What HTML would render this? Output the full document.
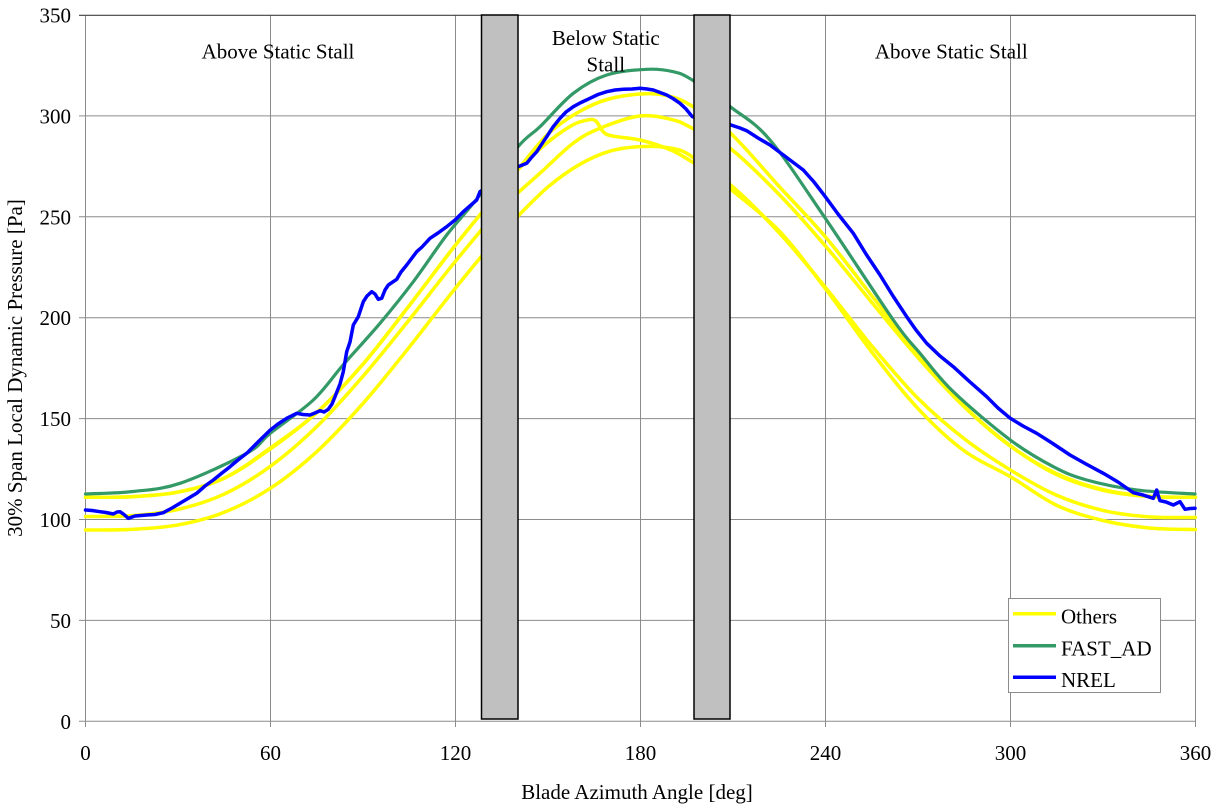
<!DOCTYPE html>
<html>
<head>
<meta charset="utf-8">
<style>
  html, body { margin: 0; padding: 0; background: #ffffff; }
  svg { display: block; }
  text { font-family: "Liberation Serif", "Times New Roman", serif; fill: #000; }
</style>
</head>
<body>
<svg id="chart" width="1212" height="810" viewBox="0 0 1212 810" xmlns="http://www.w3.org/2000/svg">
  <rect x="0" y="0" width="1212" height="810" fill="#ffffff"/>
  <g id="grid" stroke="#8c8c8c" stroke-width="1" fill="none">
    <!-- horizontal gridlines -->
    <line x1="79" y1="721.3" x2="1195.5" y2="721.3"/>
    <line x1="79" y1="620.4" x2="1195.5" y2="620.4"/>
    <line x1="79" y1="519.5" x2="1195.5" y2="519.5"/>
    <line x1="79" y1="418.6" x2="1195.5" y2="418.6"/>
    <line x1="79" y1="317.7" x2="1195.5" y2="317.7"/>
    <line x1="79" y1="216.8" x2="1195.5" y2="216.8"/>
    <line x1="79" y1="115.9" x2="1195.5" y2="115.9"/>
    <!-- vertical gridlines -->
    <line x1="85.5" y1="15" x2="85.5" y2="727"/>
    <line x1="270.5" y1="15" x2="270.5" y2="727"/>
    <line x1="455.5" y1="15" x2="455.5" y2="727"/>
    <line x1="640.5" y1="15" x2="640.5" y2="727"/>
    <line x1="825.5" y1="15" x2="825.5" y2="727"/>
    <line x1="1010.5" y1="15" x2="1010.5" y2="727"/>
    <line x1="1195.5" y1="15" x2="1195.5" y2="727"/>
  </g>
  <line x1="79" y1="15.3" x2="1195.5" y2="15.3" stroke="#404040" stroke-width="1.2"/>

  <g id="curves" fill="none" stroke-linejoin="round" stroke-linecap="round"></g>

  <!-- gray bars -->
  <rect x="481.5" y="15" width="36.5" height="704" fill="#c0c0c0" stroke="#000" stroke-width="1.5"/>
  <rect x="694" y="15" width="36" height="704" fill="#c0c0c0" stroke="#000" stroke-width="1.5"/>

  <!-- annotations -->
  <text x="278" y="58.3" font-size="21" text-anchor="middle">Above Static Stall</text>
  <text x="951.3" y="58.3" font-size="21" text-anchor="middle">Above Static Stall</text>
  <text x="605.8" y="45" font-size="21" text-anchor="middle">Below Static</text>
  <text x="605.8" y="71.7" font-size="21" text-anchor="middle">Stall</text>

  <!-- y tick labels -->
  <g font-size="21" text-anchor="end">
    <text x="71" y="728.8">0</text>
    <text x="71" y="627.9">50</text>
    <text x="71" y="527">100</text>
    <text x="71" y="426.1">150</text>
    <text x="71" y="325.2">200</text>
    <text x="71" y="224.3">250</text>
    <text x="71" y="123.4">300</text>
    <text x="71" y="22.7">350</text>
  </g>
  <!-- x tick labels -->
  <g font-size="21" text-anchor="middle">
    <text x="85.5" y="760">0</text>
    <text x="270.5" y="760">60</text>
    <text x="455.5" y="760">120</text>
    <text x="640.5" y="760">180</text>
    <text x="825.5" y="760">240</text>
    <text x="1010.5" y="760">300</text>
    <text x="1195.5" y="760">360</text>
  </g>
  <!-- axis titles -->
  <text x="637" y="799" font-size="21" text-anchor="middle">Blade Azimuth Angle [deg]</text>
  <text transform="translate(22,368) rotate(-90)" font-size="21" text-anchor="middle">30% Span Local Dynamic Pressure [Pa]</text>

  <!-- legend -->
  <rect x="1008.5" y="598.5" width="152" height="94" fill="#ffffff" stroke="#8c8c8c" stroke-width="1"/>
  <line x1="1013" y1="613.7" x2="1056" y2="613.7" stroke="#ffff00" stroke-width="3.5"/>
  <line x1="1013" y1="645.7" x2="1056" y2="645.7" stroke="#339966" stroke-width="3.5"/>
  <line x1="1013" y1="677.3" x2="1056" y2="677.3" stroke="#0000ff" stroke-width="3.5"/>
  <text x="1061" y="623.3" font-size="21">Others</text>
  <text x="1061" y="655.3" font-size="21">FAST_AD</text>
  <text x="1061" y="686.8" font-size="21">NREL</text>
</svg>
<script>
(function(){
  var X=function(d){return 85.5+d*185/60;};
  var Y=function(v){return 721.3-v*706.3/350;};
  function smooth(pts){
    var s="M"+pts[0][0].toFixed(2)+","+pts[0][1].toFixed(2);
    for(var i=0;i<pts.length-1;i++){
      var p0=pts[i-1]||pts[i], p1=pts[i], p2=pts[i+1], p3=pts[i+2]||p2;
      var c1x=p1[0]+(p2[0]-p0[0])/6, c1y=p1[1]+(p2[1]-p0[1])/6;
      var c2x=p2[0]-(p3[0]-p1[0])/6, c2y=p2[1]-(p3[1]-p1[1])/6;
      s+=" C"+c1x.toFixed(2)+","+c1y.toFixed(2)+" "+c2x.toFixed(2)+","+c2y.toFixed(2)+" "+p2[0].toFixed(2)+","+p2[1].toFixed(2);
    }
    return s;
  }
  function dv(list){return list.map(function(p){return [X(p[0]),Y(p[1])];});}
  var g=document.getElementById("curves");
  var NS="http://www.w3.org/2000/svg";
  function addPath(d,color,w){
    var p=document.createElementNS(NS,"path");
    p.setAttribute("d",d);p.setAttribute("stroke",color);p.setAttribute("stroke-width",w);
    g.appendChild(p);
  }
  var yTop=[[0,111],[15,111.3],[30,113.6],[45,120.5],[60,135],[75,153],[90,177],[105,206],[120,236],[135,264],[140,273],[150,291],[160,302],[170,308.5],[182,311],[190,309.5],[197,304.6],[209,291.7],[225,265],[240,240],[255,210.9],[270,181.7],[285,156.1],[300,136.5],[315,122.2],[330,114.5],[345,111.4],[360,111]];
  var yKink=[[0,111],[15,111.3],[30,113.6],[45,120.5],[60,135.5],[75,153],[90,177],[105,206],[120,236],[135,264],[140,273],[150,287],[158,295.5],[163,298],[165.5,297.5],[168,292],[171,290],[180,288],[190,283],[197,277],[209,266],[225,242],[240,215],[255,186],[270,160],[285,140],[300,124.5],[315,112],[330,104.5],[345,101.3],[360,101]];
  var y300=[[0,101.5],[15,101.9],[30,105],[45,112.6],[60,126.4],[75,146],[90,171],[105,199],[120,228],[135,255],[140,261.6],[147.4,271.6],[158.2,286.5],[166.9,293.9],[180,300],[190.6,298],[196.8,293.9],[209,284],[225,261],[240,235.5],[255,207.6],[270,180.2],[285,155.8],[300,136.3],[315,122.7],[330,114.8],[345,111.5],[360,111]];
  var y285=[[0,94.8],[15,95.1],[30,97.3],[45,103.6],[60,115.5],[75,133.6],[90,157.5],[105,185.4],[120,214.7],[135,242.3],[140,250],[150,264.8],[160,275.7],[170,282.5],[180,284.8],[190,284],[197,279.5],[209,264],[225,243],[240,214.3],[255,183],[270,155],[285,134],[300,121.2],[315,107],[330,99.5],[345,95.8],[360,95]];
  [yTop,yKink,y300,y285].forEach(function(c){addPath(smooth(dv(c)),"#ffff00",3.5);});
  var green=[[85.5,494],[133,491.5],[180,483.3],[246.7,453.3],[270.3,433.3],[313.3,400],[343.3,364.7],[380,323.3],[413.3,281.7],[446.7,235],[473.3,203.3],[518,146.7],[540,126.7],[573.3,93.3],[606.7,75],[646.7,69.3],[673.3,71.7],[692.3,80],[731,107.3],[770,140],[825.3,218.3],[893.3,320],[920,353.3],[953.3,391.7],[1010.3,440],[1053.3,466.7],[1086.7,480],[1136.7,490],[1195,494]];
  addPath(smooth(green),"#339966",3.2);
  var blue=[[85.5,510],[92,510.5],[100,511.7],[106,512.5],[113.3,514],[117,512],[120,511.7],[124,514.5],[128.3,518.3],[135,516],[146.7,515],[155,514.5],[163.3,512.7],[172,508],[180,503.3],[188,498.5],[196.7,493.3],[205,486],[213.3,480],[222,473],[230,466.7],[238,460],[246.7,453.3],[258,442],[270.3,430],[278,424],[286.7,418.3],[296.7,413.3],[303,414.5],[310,415],[315,413],[320,410.7],[324,412],[328.3,409.3],[332,404],[335,396.7],[340,384],[343.3,371.7],[346.7,351.7],[350,342],[353.3,325],[358.3,316.7],[363.3,301.7],[367,296],[371.7,291.7],[375,294],[378.3,299.3],[381.7,298.3],[385,290],[388.3,285],[396.7,279.3],[401,272],[406.7,265],[416.7,251.7],[422,247],[430,238.3],[438,233],[446.7,226.7],[455,220],[463.3,211.7],[476.7,200],[480,191.7],[518,166.7],[526.7,163.3],[531,158],[536.7,151.7],[546.7,136.7],[553,127],[560,118.3],[566,112],[573.3,106.7],[580,103],[590,98.3],[598,94.5],[606.7,91.7],[615,90],[623.3,89.3],[632,89],[640,88.3],[647,89],[653.3,90],[660,92.5],[666.7,95],[673,98.5],[680,103.3],[686,109],[692.3,116.7],[731,125],[740,128],[746.7,130.7],[758,138],[770,145],[786,157],[803.3,170],[814,182],[825.3,196.7],[838,214],[853.3,233.3],[866,254],[880,275],[893,296],[906.7,316.7],[916,330],[926.7,343.3],[940,356],[953.3,366.7],[970,382],[986.7,396.7],[998,408],[1010.3,418.3],[1023,426],[1036.7,433.3],[1052,443],[1070,455],[1086,464],[1103.3,473.3],[1118,482],[1133.3,492.7],[1143,495],[1153.3,498.3],[1156.7,490],[1158,495],[1160,500.7],[1166,502],[1173.3,505],[1180,501.7],[1185,509.3],[1190,508.5],[1195,508.3]];
  var s="M"+blue.map(function(p){return p[0]+","+p[1];}).join(" L");
  addPath(s,"#0000ff",3.5);
})();
</script>
</body>
</html>
